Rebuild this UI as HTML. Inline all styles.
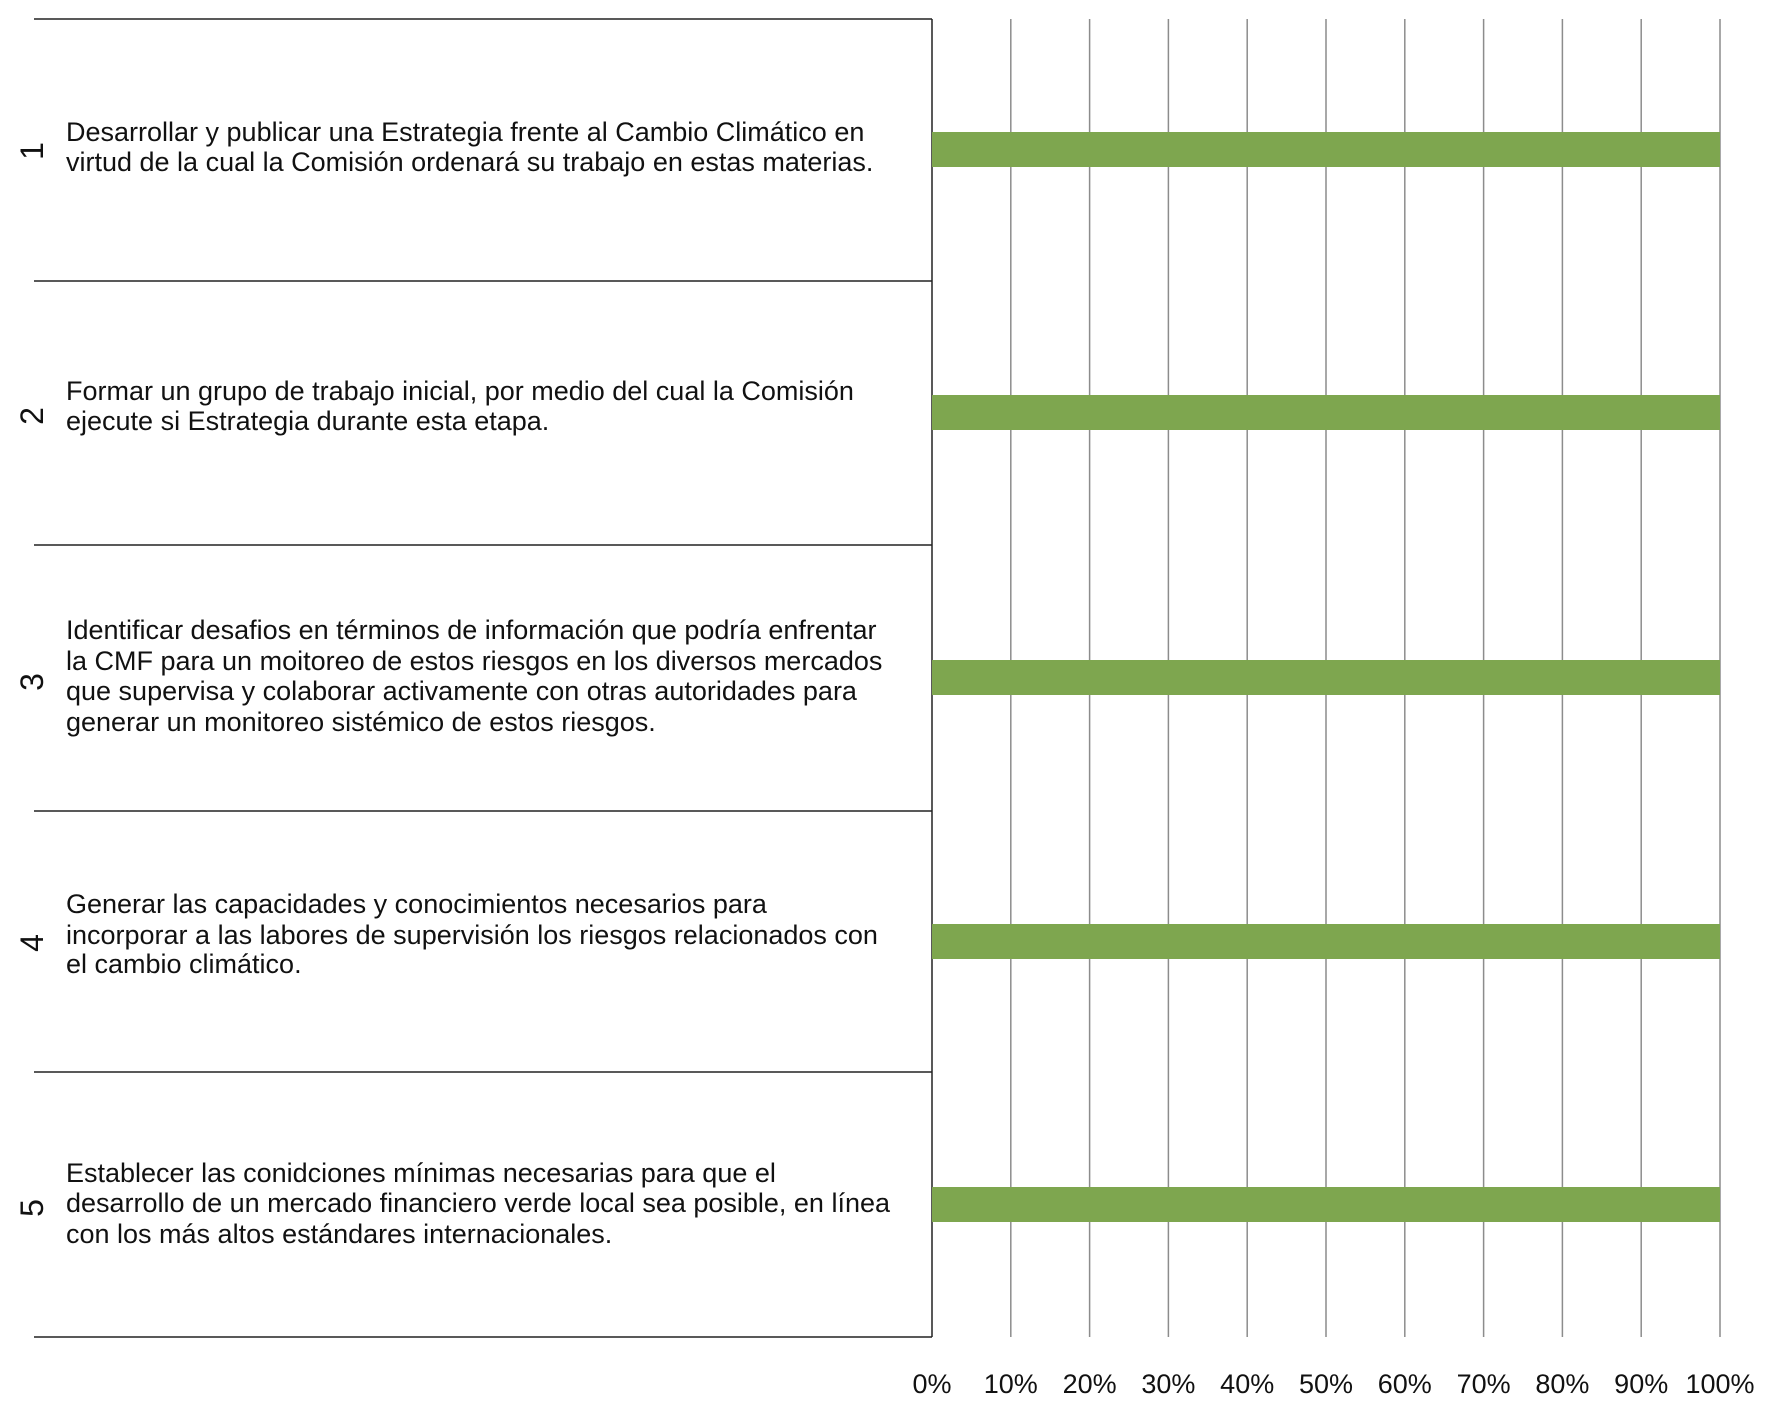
<!DOCTYPE html>
<html><head><meta charset="utf-8"><style>
html,body{margin:0;padding:0;background:#fff;}
svg{display:block;}
text{font-family:"Liberation Sans",sans-serif;fill:#111;}
</style></head><body>
<svg width="1772" height="1417" viewBox="0 0 1772 1417" xmlns="http://www.w3.org/2000/svg">
<g stroke="#8c8c8c" stroke-width="1.5">
<line x1="1010.8" y1="19" x2="1010.8" y2="1337"/>
<line x1="1089.6" y1="19" x2="1089.6" y2="1337"/>
<line x1="1168.4" y1="19" x2="1168.4" y2="1337"/>
<line x1="1247.2" y1="19" x2="1247.2" y2="1337"/>
<line x1="1326" y1="19" x2="1326" y2="1337"/>
<line x1="1404.8" y1="19" x2="1404.8" y2="1337"/>
<line x1="1483.6" y1="19" x2="1483.6" y2="1337"/>
<line x1="1562.4" y1="19" x2="1562.4" y2="1337"/>
<line x1="1641.2" y1="19" x2="1641.2" y2="1337"/>
<line x1="1720" y1="19" x2="1720" y2="1337"/>
</g>
<g stroke="#222" stroke-width="1.5">
<line x1="932" y1="19" x2="932" y2="1337"/>
<line x1="34" y1="19" x2="932" y2="19"/>
<line x1="34" y1="281" x2="932" y2="281"/>
<line x1="34" y1="545" x2="932" y2="545"/>
<line x1="34" y1="811" x2="932" y2="811"/>
<line x1="34" y1="1072" x2="932" y2="1072"/>
<line x1="34" y1="1337" x2="932" y2="1337"/>
</g>
<g fill="#7ea64f">
<rect x="932" y="132" width="788" height="35"/>
<rect x="932" y="395" width="788" height="35"/>
<rect x="932" y="660" width="788" height="35"/>
<rect x="932" y="924" width="788" height="35"/>
<rect x="932" y="1187" width="788" height="35"/>
</g>
<g font-size="27">
<text x="66" y="141">Desarrollar y publicar una Estrategia frente al Cambio Climático en</text>
<text x="66" y="171">virtud de la cual la Comisión ordenará su trabajo en estas materias.</text>
<text x="66" y="400">Formar un grupo de trabajo inicial, por medio del cual la Comisión</text>
<text x="66" y="430">ejecute si Estrategia durante esta etapa.</text>
<text x="66" y="639">Identificar desafios en términos de información que podría enfrentar</text>
<text x="66" y="670">la CMF para un moitoreo de estos riesgos en los diversos mercados</text>
<text x="66" y="700">que supervisa y colaborar activamente con otras autoridades para</text>
<text x="66" y="731">generar un monitoreo sistémico de estos riesgos.</text>
<text x="66" y="913">Generar las capacidades y conocimientos necesarios para</text>
<text x="66" y="944">incorporar a las labores de supervisión los riesgos relacionados con</text>
<text x="66" y="973">el cambio climático.</text>
<text x="66" y="1182">Establecer las conidciones mínimas necesarias para que el</text>
<text x="66" y="1212">desarrollo de un mercado financiero verde local sea posible, en línea</text>
<text x="66" y="1243">con los más altos estándares internacionales.</text>
</g>
<g font-size="32" text-anchor="middle">
<text transform="translate(43,151) rotate(-90)">1</text>
<text transform="translate(43,416) rotate(-90)">2</text>
<text transform="translate(43,682) rotate(-90)">3</text>
<text transform="translate(43,943) rotate(-90)">4</text>
<text transform="translate(43,1208) rotate(-90)">5</text>
</g>
<g font-size="27" text-anchor="middle">
<text x="932" y="1393">0%</text>
<text x="1010.8" y="1393">10%</text>
<text x="1089.6" y="1393">20%</text>
<text x="1168.4" y="1393">30%</text>
<text x="1247.2" y="1393">40%</text>
<text x="1326" y="1393">50%</text>
<text x="1404.8" y="1393">60%</text>
<text x="1483.6" y="1393">70%</text>
<text x="1562.4" y="1393">80%</text>
<text x="1641.2" y="1393">90%</text>
<text x="1720" y="1393">100%</text>
</g>
</svg>
</body></html>
